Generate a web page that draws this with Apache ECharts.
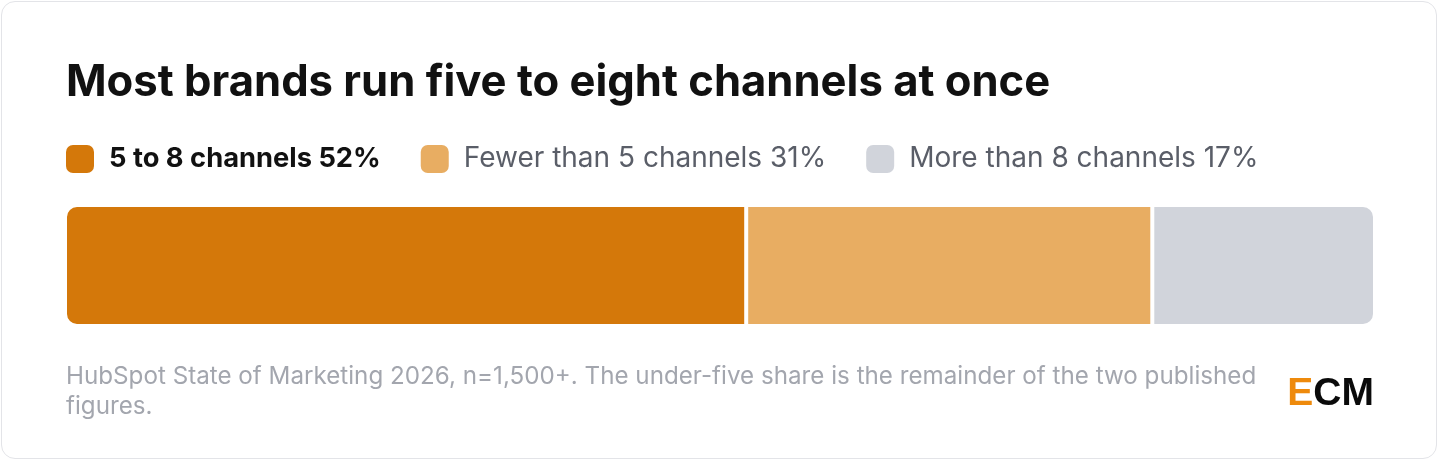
<!DOCTYPE html>
<html>
<head>
<meta charset="utf-8">
<script src="https://cdn.jsdelivr.net/npm/echarts@6/dist/echarts.min.js"></script>
<style>
    html, body { margin: 0; padding: 0; background: #ffffff; }
    #card {
        position: absolute; left: 1px; top: 1px;
        width: 1436px; height: 458px;
        border: 1px solid #e3e4e8; border-radius: 14px;
        background: #ffffff; box-sizing: border-box;
    }
    #main { position: absolute; left: 0; top: 0; width: 1440px; height: 462px; }
</style>
</head>
<body>
<div id="card"></div>
<div id="main"></div>
<script type="text/javascript">
    // 数据
    var categories = ['5 to 8 channels', 'Fewer than 5 channels', 'More than 8 channels'];
    var shares = [52, 31, 17];
    var colors = ['#d4780a', '#e8ad62', '#d1d4db'];
    var titleText = 'Most brands run five to eight channels at once';
    var noteText = 'HubSpot State of Marketing 2026, n=1,500+. The under-five share is the remainder of the two published figures.';

    var FONT = 'Inter, "Noto Sans", sans-serif';
    var myChart = echarts.init(document.getElementById('main'));

    // 每一段一个系列，堆叠成一根横条
    var series = [];
    for (var i = 0; i < categories.length; i++) {
        var radius = [0, 0, 0, 0];
        if (i == 0) radius = [11, 0, 0, 11];
        if (i == categories.length - 1) radius = [0, 11, 11, 0];
        series.push({
            name: categories[i] + ' ' + shares[i] + '%',
            type: 'bar',
            stack: 'all',
            barWidth: 121,
            data: [shares[i]],
            itemStyle: {
                color: colors[i],
                borderColor: '#ffffff',
                borderWidth: 2,
                borderRadius: radius
            },
            emphasis: { disabled: true },
            silent: true
        });
    }

    var legendData = series.map(function (s, i) {
        return {
            name: s.name,
            textStyle: i == 0
                ? { color: '#111111', fontWeight: 'bold', fontSize: 27.3 }
                : { color: '#5a5e68', fontWeight: 'normal', fontSize: 28 }
        };
    });

    var option = {
        animation: false,
        title: {
            text: titleText,
            left: 66,
            top: 61,
            padding: 0,
            textStyle: {
                fontFamily: FONT,
                fontSize: 43.6,
                fontWeight: 'bold',
                color: '#111111'
            }
        },
        legend: {
            left: 66,
            top: 145,
            padding: 0,
            icon: 'roundRect',
            itemWidth: 28,
            itemHeight: 28,
            itemGap: 40,
            selectedMode: false,
            data: legendData,
            itemStyle: { borderWidth: 0 },
            textStyle: {
                fontFamily: FONT,
                fontSize: 27,
                padding: [3, 0, 0, 10]
            }
        },
        grid: { left: 65, right: 65, top: 205, height: 121 },
        xAxis: { type: 'value', min: 0, max: 100, show: false },
        yAxis: { type: 'category', data: ['share'], show: false },
        series: series,
        graphic: [
            {
                type: 'text',
                left: 66,
                top: 362,
                style: {
                    text: noteText,
                    width: 1215,
                    overflow: 'break',
                    lineHeight: 30,
                    fontFamily: FONT,
                    fontSize: 24.2,
                    fill: '#a3a6ae'
                }
            },
            {
                type: 'text',
                right: 66,
                top: 375,
                style: {
                    rich: {
                        e: { fontFamily: 'Liberation Sans, Arial, sans-serif', fontSize: 39, fontWeight: 'bold', fill: '#ee8a0c' },
                        cm: { fontFamily: 'Liberation Sans, Arial, sans-serif', fontSize: 39, fontWeight: 'bold', fill: '#0a0a0a' }
                    },
                    text: '{e|E}{cm|CM}'
                }
            }
        ]
    };
    myChart.setOption(option);
</script>
</body>
</html>
